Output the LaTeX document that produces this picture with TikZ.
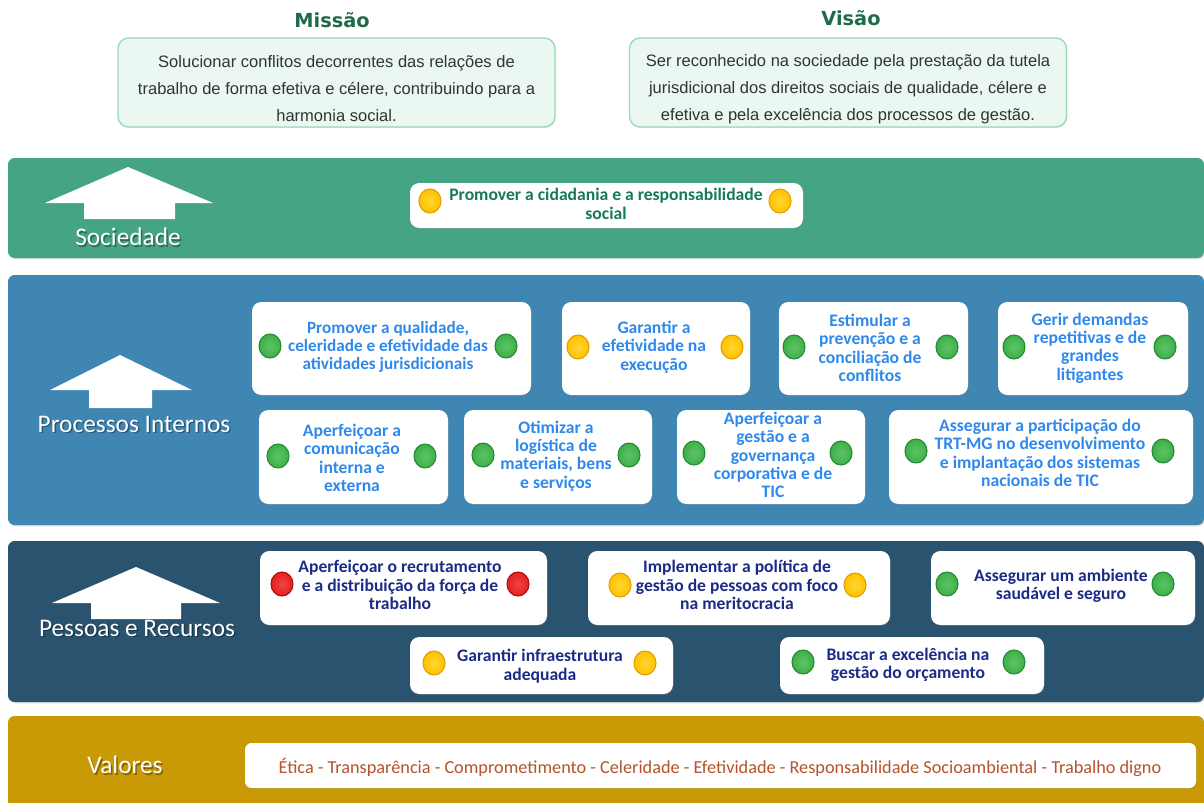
\documentclass[tikz,border=0pt]{standalone}
\usepackage{fontspec}
\setmainfont{Carlito}
\newfontfamily\tahoma{Liberation Sans}
\newfontfamily\verd{DejaVu Sans}
\usetikzlibrary{shadows,shapes.geometric}
\definecolor{socband}{HTML}{45A486}
\definecolor{procband}{HTML}{3F86B3}
\definecolor{pesband}{HTML}{2A536F}
\definecolor{valband}{HTML}{C99A06}
\definecolor{misfill}{HTML}{EAF8F1}
\definecolor{misdraw}{HTML}{9ED8BA}
\definecolor{mistitle}{HTML}{1F6A48}
\definecolor{soctext}{HTML}{17785C}
\definecolor{proctext}{HTML}{2F89EC}
\definecolor{pestext}{HTML}{1B2B86}
\definecolor{valtext}{HTML}{B4532C}
\definecolor{gdot}{HTML}{3FAE4A}
\definecolor{gdotl}{HTML}{5CC565}
\definecolor{gdotd}{HTML}{238A32}
\definecolor{ydot}{HTML}{FFC200}
\definecolor{ydotl}{HTML}{FFD633}
\definecolor{ydotd}{HTML}{E39C00}
\definecolor{rdot}{HTML}{E51F1F}
\definecolor{rdotl}{HTML}{F04444}
\definecolor{rdotd}{HTML}{A81010}
\tikzset{
  band/.style={rounded corners=5pt, drop shadow={opacity=0.25, shadow xshift=0.8pt, shadow yshift=-1pt}},
  wbox/.style 2 args={draw=none, fill=white, rounded corners=7pt, minimum width=#1*0.75pt, minimum height=#2*0.75pt, inner sep=0pt,
     drop shadow={opacity=0.2, shadow xshift=0.6pt, shadow yshift=-0.8pt}},
  mbox/.style={draw=misdraw, line width=1pt, fill=misfill, rounded corners=8pt, minimum width=437*0.75pt, minimum height=89*0.75pt, inner sep=0pt,
     drop shadow={opacity=0.2, shadow xshift=0.6pt, shadow yshift=-0.8pt}},
  mtext/.style={font=\tahoma\fontsize{12.4}{20.2}\selectfont, text=black!80, align=center},
  mtitle/.style={font=\verd\bfseries\fontsize{14.5}{16}\selectfont, text=mistitle},
  bandlbl/.style={font=\fontsize{19}{21}\selectfont, text=white},
  lblshadow/.style={font=\fontsize{19}{21}\selectfont, text=black, opacity=0.35},
  otext/.style={font=\bfseries\fontsize{13.2}{13.8}\selectfont, align=center},
  stxt/.style={otext, text=soctext},
  ptxt/.style={otext, text=proctext},
  rtxt/.style={otext, text=pestext},
  dot/.style={ellipse, minimum width=22*0.75pt, minimum height=24*0.75pt, inner sep=0pt, line width=0.8pt},
  gd/.style={dot, inner color=gdotl, outer color=gdot, draw=gdotd},
  yd/.style={dot, inner color=ydotl, outer color=ydot, draw=ydotd},
  rd/.style={dot, inner color=rdotl, outer color=rdot, draw=rdotd},
  uparrow/.style={fill=white}
}
\begin{document}
\begin{tikzpicture}[x=0.75pt,y=-0.75pt]
\useasboundingbox (0,0) rectangle (1204,803);
\fill[white] (0,0) rectangle (1204,803);

% Mission / Vision
\node[mtitle] (mist) at (332,20) {Missão};
\node[mtitle] (vist) at (851,18) {Visão};
\node[mbox] (misbox) at (336.5,82.5) {};
\node[mtext] (mistx) at (336.5,89) {Solucionar conflitos decorrentes das relações de\\trabalho de forma efetiva e célere, contribuindo para a\\harmonia social.};
\node[mbox] (visbox) at (848,82.5) {};
\node[mtext] (vistx) at (848,89) {Ser reconhecido na sociedade pela prestação da tutela\\jurisdicional dos direitos sociais de qualidade, célere e\\efetiva e pela excelência dos processos de gestão.};

% Bands
\fill[band, socband] (8,158) rectangle (1204,258);
\fill[band, procband] (8,275) rectangle (1204,525);
\fill[band, pesband] (8,541) rectangle (1204,702);
\fill[band, valband] (8,716) rectangle (1204,812);

% Arrows
\fill[uparrow] (128,167) -- (213,203) -- (175,203) -- (175,219) -- (84,219) -- (84,203) -- (45,203) -- cycle;
\fill[uparrow] (120,355) -- (192,390) -- (152,390) -- (152,408) -- (89,408) -- (89,390) -- (50,390) -- cycle;
\fill[uparrow] (136,567) -- (220,603) -- (181,603) -- (181,619) -- (91,619) -- (91,603) -- (52,603) -- cycle;

% Band labels
\node[lblshadow] at (129.5,238.5) {Sociedade};
\node[lblshadow] at (135.5,425.5) {Processos Internos};
\node[lblshadow] at (138.5,629.5) {Pessoas e Recursos};
\node[lblshadow] at (126.5,766.5) {Valores};
\node[bandlbl] (lsoc) at (128,237) {Sociedade};
\node[bandlbl] (lproc) at (134,424) {Processos Internos};
\node[bandlbl] (lpes) at (137,628) {Pessoas e Recursos};
\node[bandlbl] (lval) at (125,765) {Valores};

% Sociedade
\node[wbox={393}{45}] (s1) at (606.5,205.5) {};
\node[stxt] at (606,204) {Promover a cidadania e a responsabilidade\\social};
\node[yd] (s1a) at (430,201) {};
\node[yd] (s1b) at (780,201) {};

% Processos Internos row 1
\node[wbox={279}{93}] (p1) at (391.5,348.5) {};
\node[ptxt, font=\bfseries\fontsize{12.9}{13.8}\selectfont] at (388,347) {Promover a qualidade,\\celeridade e efetividade das\\atividades jurisdicionais};
\node[gd] (p1a) at (270,346) {};
\node[gd] (p1b) at (506,346) {};

\node[wbox={188}{93}] (p2) at (656,348.5) {};
\node[ptxt] at (654,347) {Garantir a\\efetividade na\\execução};
\node[yd] (p2a) at (578,347) {};
\node[yd] (p2b) at (732,347) {};

\node[wbox={189}{93}] (p3) at (873.5,348.5) {};
\node[ptxt] at (870,348) {Estimular a\\prevenção e a\\conciliação de\\conflitos};
\node[gd] (p3a) at (794,347) {};
\node[gd] (p3b) at (947,347) {};

\node[wbox={190}{93}] (p4) at (1093,348.5) {};
\node[ptxt] at (1090,348) {Gerir demandas\\repetitivas e de\\grandes\\litigantes};
\node[gd] (p4a) at (1014,347) {};
\node[gd] (p4b) at (1165,347) {};

% Processos Internos row 2
\node[wbox={189}{94}] (p5) at (353.5,457) {};
\node[ptxt] at (352,458) {Aperfeiçoar a\\comunicação\\interna e\\externa};
\node[gd] (p5a) at (278,456) {};
\node[gd] (p5b) at (425,456) {};

\node[wbox={188}{94}] (p6) at (558,457) {};
\node[ptxt] at (556,456) {Otimizar a\\logística de\\materiais, bens\\e serviços};
\node[gd] (p6a) at (483,455) {};
\node[gd] (p6b) at (629,455) {};

\node[wbox={188}{94}] (p7) at (771,457) {};
\node[ptxt] at (773,455) {Aperfeiçoar a\\gestão e a\\governança\\corporativa e de\\TIC};
\node[gd] (p7a) at (694,453) {};
\node[gd] (p7b) at (841,453) {};

\node[wbox={304}{94}] (p8) at (1041,457) {};
\node[ptxt] at (1040,453) {Assegurar a participação do\\TRT-MG no desenvolvimento\\e implantação dos sistemas\\nacionais de TIC};
\node[gd] (p8a) at (916,451) {};
\node[gd] (p8b) at (1163,451) {};

% Pessoas e Recursos
\node[wbox={287}{74}] (r1) at (403.5,588) {};
\node[rtxt] at (400,585) {Aperfeiçoar o recrutamento\\e a distribuição da força de\\trabalho};
\node[rd] (r1a) at (282,584) {};
\node[rd] (r1b) at (518,584) {};

\node[wbox={302}{74}] (r2) at (739,588) {};
\node[rtxt] at (737,585) {Implementar a política de\\gestão de pessoas com foco\\na meritocracia};
\node[yd] (r2a) at (620,585) {};
\node[yd] (r2b) at (855,585) {};

\node[wbox={264}{74}] (r3) at (1063,588) {};
\node[rtxt] at (1061,586) {Assegurar um ambiente\\saudável e seguro};
\node[gd] (r3a) at (947,584) {};
\node[gd] (r3b) at (1163,584) {};

\node[wbox={263}{57}] (r4) at (541.5,665.5) {};
\node[rtxt] at (540,666) {Garantir infraestrutura\\adequada};
\node[yd] (r4a) at (434,663) {};
\node[yd] (r4b) at (645,663) {};

\node[wbox={264}{57}] (r5) at (912,665.5) {};
\node[rtxt] at (908,665) {Buscar a excelência na\\gestão do orçamento};
\node[gd] (r5a) at (803,662) {};
\node[gd] (r5b) at (1014,662) {};

% Valores
\node[wbox={951}{45}, rounded corners=5pt] (v1) at (720.5,765.5) {};
\node[font=\fontsize{13.7}{15}\selectfont, text=valtext] (v1t) at (720,767) {Ética - Transparência - Comprometimento - Celeridade - Efetividade - Responsabilidade Socioambiental - Trabalho digno};
\end{tikzpicture}
\end{document}
